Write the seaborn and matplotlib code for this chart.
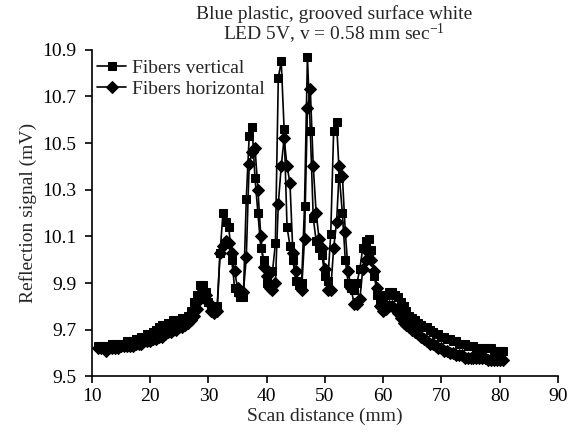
import pandas as pd
import seaborn as sns
import matplotlib
matplotlib.use('Agg')
import matplotlib.pyplot as plt

# scan positions (mm), shared by both series
scan_mm = [
    11.0, 11.5, 12.0, 12.5, 13.0, 13.5, 14.0, 14.5, 15.0, 15.5,
    16.0, 16.5, 17.0, 17.5, 18.0, 18.5, 19.0, 19.5, 20.0, 20.5,
    21.0, 21.5, 22.0, 22.5, 23.0, 23.5, 24.0, 24.5, 25.0, 25.5,
    26.0, 26.5, 27.0, 27.5, 28.0, 28.5, 29.0, 29.5, 30.0, 30.5,
    31.0, 31.5, 32.0, 32.5, 33.0, 33.5, 34.0, 34.5, 35.0, 35.5,
    36.0, 36.5, 37.0, 37.5, 38.0, 38.5, 39.0, 39.5, 40.0, 40.5,
    41.0, 41.5, 42.0, 42.5, 43.0, 43.5, 44.0, 44.5, 45.0, 45.5,
    46.0, 46.5, 47.0, 47.5, 48.0, 48.5, 49.0, 49.5, 50.0, 50.5,
    51.0, 51.5, 52.0, 52.5, 53.0, 53.5, 54.0, 54.5, 55.0, 55.5,
    56.0, 56.5, 57.0, 57.5, 58.0, 58.5, 59.0, 59.5, 60.0, 60.5,
    61.0, 61.5, 62.0, 62.5, 63.0, 63.5, 64.0, 64.5, 65.0, 65.5,
    66.0, 66.5, 67.0, 67.5, 68.0, 68.5, 69.0, 69.5, 70.0, 70.5,
    71.0, 71.5, 72.0, 72.5, 73.0, 73.5, 74.0, 74.5, 75.0, 75.5,
    76.0, 76.5, 77.0, 77.5, 78.0, 78.5, 79.0, 79.5, 80.0, 80.5,
]

# reflection signal (mV), fibers vertical
vertical = [
    9.63, 9.63, 9.63, 9.63, 9.63, 9.64, 9.64, 9.64, 9.64, 9.64,
    9.65, 9.65, 9.65, 9.66, 9.66, 9.67, 9.67, 9.68, 9.68, 9.69,
    9.70, 9.71, 9.72, 9.72, 9.73, 9.73, 9.74, 9.74, 9.74, 9.75,
    9.75, 9.76, 9.78, 9.82, 9.85, 9.89, 9.89, 9.86, 9.82, 9.79,
    9.78, 9.80, 10.03, 10.20, 10.16, 10.14, 10.00, 9.88, 9.86, 9.84,
    9.84, 10.26, 10.53, 10.57, 10.35, 10.20, 10.05, 10.00, 9.90, 9.89,
    9.95, 10.07, 10.78, 10.85, 10.56, 10.14, 10.06, 10.00, 9.91, 9.89,
    9.90, 10.23, 10.87, 10.55, 10.18, 10.08, 10.05, 10.02, 9.93, 9.91,
    10.11, 10.55, 10.59, 10.35, 10.20, 10.00, 9.90, 9.88, 9.87, 9.90,
    9.96, 10.05, 10.08, 10.09, 10.04, 9.93, 9.85, 9.82, 9.83, 9.85,
    9.86, 9.86, 9.85, 9.84, 9.82, 9.80, 9.78, 9.76, 9.75, 9.74,
    9.73, 9.72, 9.71, 9.71, 9.70, 9.69, 9.68, 9.68, 9.67, 9.67,
    9.66, 9.66, 9.65, 9.65, 9.64, 9.64, 9.64, 9.63, 9.63, 9.63,
    9.62, 9.62, 9.62, 9.62, 9.62, 9.62, 9.61, 9.61, 9.61, 9.61,
]

# reflection signal (mV), fibers horizontal
horizontal = [
    9.62, 9.62, 9.62, 9.61, 9.62, 9.62, 9.62, 9.62, 9.63, 9.63,
    9.63, 9.63, 9.63, 9.64, 9.64, 9.64, 9.65, 9.65, 9.65, 9.66,
    9.66, 9.67, 9.67, 9.68, 9.69, 9.69, 9.70, 9.70, 9.71, 9.71,
    9.72, 9.73, 9.74, 9.76, 9.79, 9.83, 9.86, 9.85, 9.82, 9.78,
    9.77, 9.78, 10.03, 10.06, 10.08, 10.07, 10.03, 9.95, 9.88, 9.85,
    9.86, 10.01, 10.41, 10.46, 10.48, 10.30, 10.10, 9.97, 9.93, 9.88,
    9.87, 9.90, 10.24, 10.40, 10.52, 10.40, 10.33, 10.03, 9.95, 9.90,
    9.87, 10.09, 10.65, 10.73, 10.40, 10.20, 10.09, 10.05, 9.96, 9.87,
    9.87, 10.05, 10.16, 10.40, 10.36, 10.12, 9.95, 9.88, 9.81, 9.81,
    9.83, 9.96, 10.00, 10.03, 10.00, 9.95, 9.88, 9.80, 9.78, 9.79,
    9.80, 9.80, 9.79, 9.77, 9.75, 9.73, 9.72, 9.71, 9.70, 9.69,
    9.68, 9.67, 9.66, 9.65, 9.64, 9.64, 9.63, 9.62, 9.62, 9.61,
    9.61, 9.60, 9.60, 9.59, 9.59, 9.59, 9.58, 9.58, 9.58, 9.58,
    9.58, 9.58, 9.58, 9.58, 9.57, 9.57, 9.57, 9.57, 9.57, 9.57,
]

series_names = ['Fibers vertical', 'Fibers horizontal']
x_ticks = [10, 20, 30, 40, 50, 60, 70, 80, 90]
y_ticks = [9.5, 9.7, 9.9, 10.1, 10.3, 10.5, 10.7, 10.9]

df = pd.concat([
    pd.DataFrame({'scan': scan_mm, 'signal': vertical, 'series': series_names[0]}),
    pd.DataFrame({'scan': scan_mm, 'signal': horizontal, 'series': series_names[1]}),
])

sns.set_style('ticks')
plt.rcParams['font.family'] = ['Liberation Serif', 'DejaVu Serif']
plt.rcParams['mathtext.default'] = 'regular'

fig = plt.figure(figsize=(5.71, 4.34), dpi=100)
ax = fig.add_axes([0.161, 0.1325, 0.816, 0.753])

sns.lineplot(data=df, x='scan', y='signal', hue='series', style='series',
             palette=['black', 'black'], markers={series_names[0]: 's', series_names[1]: 'D'},
             dashes=False, sort=False, linewidth=1.2, markersize=6,
             markeredgecolor='black', ax=ax)

ax.set_xlim(10, 90)
ax.set_ylim(9.5, 10.9)
ax.set_xticks(x_ticks)
ax.set_yticks(y_ticks)
ax.set_yticklabels([f'{v:.1f}' for v in y_ticks])
ax.tick_params(direction='out', length=5, width=1.2, labelsize=14, colors='black')
ax.tick_params(axis='y', pad=6)
for side in ['top', 'right']:
    ax.spines[side].set_visible(False)
for side in ['left', 'bottom']:
    ax.spines[side].set_linewidth(1.2)
    ax.spines[side].set_color('black')

ax.set_xlabel('Scan distance (mm)', fontsize=14, labelpad=2)
ax.set_ylabel('Reflection signal (mV)', fontsize=14, labelpad=4)

handles, labels = ax.get_legend_handles_labels()
ax.legend(handles, labels, loc='upper left', bbox_to_anchor=(-0.01, 1.0), frameon=False,
          fontsize=14, handlelength=1.5, handletextpad=0.3, labelspacing=0.15, borderaxespad=0.1)

fig.text(0.585, 0.942, 'Blue plastic, grooved surface white\nLED 5V, v = 0.58 mm sec$^{-1}$',
         ha='center', va='center', fontsize=14, linespacing=0.95)

fig.savefig('out.png', dpi=100, facecolor='white')
